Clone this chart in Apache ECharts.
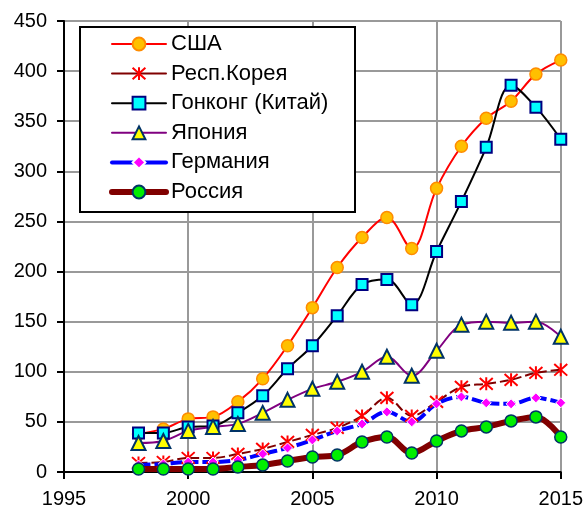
<!DOCTYPE html>
<html>
<head>
<meta charset="utf-8">
<script src="https://cdn.jsdelivr.net/npm/echarts@6/dist/echarts.min.js"></script>
<style>
  html, body { margin: 0; padding: 0; background: #fff; }
  #chart { width: 586px; height: 509px; }
</style>
</head>
<body>
<div id="chart"></div>
<script>
// Years covered by every series
const years = [1998, 1999, 2000, 2001, 2002, 2003, 2004, 2005, 2006, 2007, 2008, 2009, 2010, 2011, 2012, 2013, 2014, 2015];

// Values per country
const usa      = [38, 43, 53, 55, 70, 93, 126, 164, 204, 234, 254, 223, 283, 325, 353, 370, 397, 411];
const korea    = [9, 10, 14, 14, 18, 23, 30, 37, 44, 56, 74, 56, 70, 85, 88, 92, 99, 102];
const hongkong = [39, 39, 45, 46, 59, 76, 103, 126, 156, 187, 192, 167, 220, 270, 324, 386, 364, 332];
const japan    = [29, 31, 41, 45, 48, 59, 72, 83, 90, 100, 115, 96, 121, 147, 150, 149, 150, 135];
const germany  = [7, 8, 10, 10, 12, 18, 24, 32, 41, 48, 60, 50, 68, 75, 69, 68, 74, 69];
const russia   = [3, 3, 3, 3, 5, 7, 11, 15, 17, 30, 35, 19, 31, 41, 45, 51, 55, 35];

// Series names, in legend order
const names = ['США', 'Респ.Корея', 'Гонконг (Китай)', 'Япония', 'Германия', 'Россия'];

// Axis ranges
const xMin = 1995, xMax = 2015, xStep = 5;
const yMin = 0, yMax = 450, yStep = 50;

const pairs = vals => years.map((y, i) => [y, vals[i]]);

const asterisk = 'path://M0,-10L0,10M-9,-9L9,9M9,-9L-9,9';
const font = 'Liberation Sans, Arial, sans-serif';

const chart = echarts.init(document.getElementById('chart'));

function lineSeries(name, vals, line, symbol, symbolSize, item) {
  return {
    name: name,
    type: 'line',
    data: pairs(vals),
    smooth: 0.35,
    symbol: symbol,
    symbolSize: symbolSize,
    showAllSymbol: true,
    lineStyle: line,
    itemStyle: item,
    emphasis: { disabled: true },
    animation: false
  };
}

// Legend keys drawn as solid strokes, with each series' own width
const legendWidths = [2, 2, 2, 2, 4, 6];

chart.setOption({
  animation: false,
  grid: { left: 64, right: 25, top: 21, bottom: 37, containLabel: false },
  xAxis: {
    type: 'value',
    min: xMin, max: xMax, interval: xStep,
    axisLine: { show: true, onZero: false, lineStyle: { color: '#000', width: 2 } },
    axisTick: { show: true, length: 7, lineStyle: { color: '#000', width: 2 } },
    axisLabel: { color: '#000', fontSize: 20, fontFamily: font, margin: 17, formatter: v => String(v) },
    splitLine: { show: true, lineStyle: { color: '#999', width: 2 } }
  },
  yAxis: {
    type: 'value',
    min: yMin, max: yMax, interval: yStep,
    axisLine: { show: true, lineStyle: { color: '#000', width: 2 } },
    axisTick: { show: true, length: 7, lineStyle: { color: '#000', width: 2 } },
    axisLabel: { color: '#000', fontSize: 20, fontFamily: font, margin: 17, formatter: v => String(v) },
    splitLine: { show: true, lineStyle: { color: '#999', width: 2 } }
  },
  graphic: [{
    type: 'rect',
    z: 3,
    shape: { x: 80, y: 27, width: 275, height: 185 },
    style: { fill: '#fff', stroke: '#000', lineWidth: 2 }
  }],
  legend: {
    orient: 'vertical',
    left: 109, top: 33,
    padding: 0,
    itemWidth: 54, itemHeight: 16, itemGap: 7.6,
    selectedMode: false,
    textStyle: { color: '#000', fontSize: 22, fontFamily: font, lineHeight: 22 },
    data: names.map((n, i) => ({
      name: n,
      lineStyle: { width: legendWidths[i], type: 'solid', cap: 'round' }
    }))
  },
  series: [
    lineSeries(names[0], usa, { color: '#ff0000', width: 2 }, 'circle', 12,
      { color: '#ffc000', borderColor: '#ff8c00', borderWidth: 1.5 }),
    lineSeries(names[1], korea, { color: '#800000', width: 2, type: [9, 4] }, asterisk, 13,
      { color: '#ff0000', borderColor: '#ff0000', borderWidth: 2 }),
    lineSeries(names[2], hongkong, { color: '#000000', width: 2 }, 'rect', 11,
      { color: '#00ffff', borderColor: '#000080', borderWidth: 2 }),
    lineSeries(names[3], japan, { color: '#800080', width: 2 }, 'triangle', 14,
      { color: '#ffff00', borderColor: '#003366', borderWidth: 2 }),
    lineSeries(names[4], germany, { color: '#0000ff', width: 4, type: [12, 4] }, 'diamond', 10,
      { color: '#ff00ff', borderColor: '#ffffff', borderWidth: 1 }),
    lineSeries(names[5], russia, { color: '#800000', width: 6 }, 'circle', 12,
      { color: '#00ee00', borderColor: '#003366', borderWidth: 1.5 })
  ]
});
</script>
</body>
</html>
